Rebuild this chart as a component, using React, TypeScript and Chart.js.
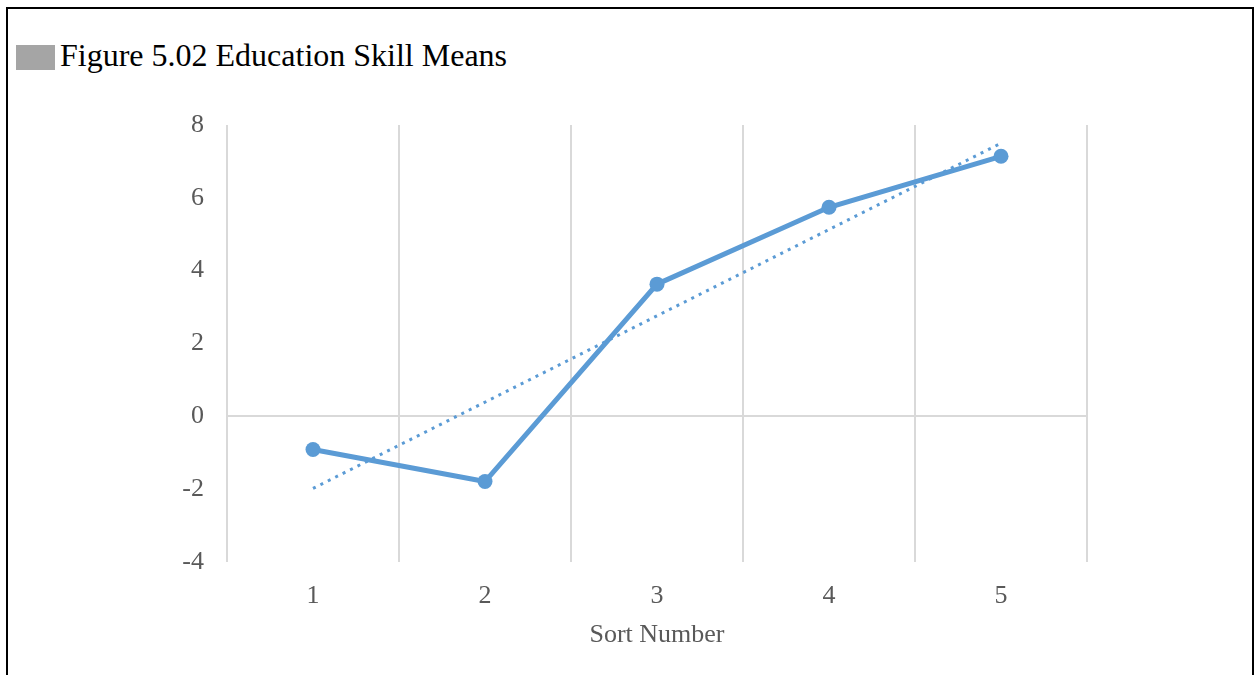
import React, { useEffect, useRef } from "react";
import { Chart, registerables } from "chart.js";

Chart.register(...registerables);

const categories = ["1", "2", "3", "4", "5"];
const skillMeans = [-0.91, -1.79, 3.63, 5.74, 7.14];
const trendValues = [-1.98, null, null, null, 7.5];
const yTicks = [-4, -2, 0, 2, 4, 6, 8];

const TITLE = "Figure 5.02 Education Skill Means";
const X_TITLE = "Sort Number";
const BLUE = "#5b9bd5";
const FONT = "'Liberation Serif', 'Times New Roman', serif";

export default function App() {
  const ref = useRef<HTMLCanvasElement | null>(null);

  useEffect(() => {
    document.body.style.margin = "0";
    const canvas = ref.current;
    if (!canvas) return;
    const chart = new Chart(canvas, {
      type: "line",
      data: {
        labels: categories,
        datasets: [
          {
            label: "Trend",
            data: trendValues,
            borderColor: BLUE,
            borderWidth: 3,
            borderDash: [3, 5.3],
            pointRadius: 0,
            spanGaps: true,
            fill: false,
            order: 0,
          },
          {
            label: "Mean",
            data: skillMeans,
            borderColor: BLUE,
            backgroundColor: BLUE,
            borderWidth: 5,
            pointRadius: 7.5,
            pointBorderWidth: 0,
            pointBackgroundColor: BLUE,
            fill: false,
            tension: 0,
            order: 1,
          },
        ],
      },
      options: {
        animation: false,
        responsive: false,
        maintainAspectRatio: false,
        layout: { padding: { left: 167, right: 167, top: 125, bottom: 20 } },
        plugins: {
          legend: { display: false },
          tooltip: { enabled: false },
          title: { display: false },
        },
        scales: {
          x: {
            type: "category",
            offset: true,
            afterFit: (scale: any) => {
              scale.height = 93;
            },
            grid: {
              display: true,
              offset: true,
              color: "#d9d9d9",
              lineWidth: 2,
              drawTicks: false,
            },
            border: { display: false },
            ticks: {
              color: "#595959",
              font: { family: FONT, size: 26 },
              padding: 19,
            },
            title: {
              display: true,
              text: X_TITLE,
              color: "#595959",
              font: { family: FONT, size: 26 },
              padding: { top: 2, bottom: 4 },
            },
          },
          y: {
            min: -4,
            max: 8,
            afterBuildTicks: (scale: any) => {
              scale.ticks = yTicks.map((v) => ({ value: v }));
            },
            afterFit: (scale: any) => {
              scale.width = 60;
            },
            grid: {
              drawTicks: false,
              color: (ctx: any) => (ctx.tick && ctx.tick.value === 0 ? "#d9d9d9" : "rgba(0,0,0,0)"),
              lineWidth: 2,
            },
            border: { display: false },
            ticks: {
              color: "#595959",
              font: { family: FONT, size: 26 },
              padding: 23,
            },
          },
        },
      },
    });
    return () => chart.destroy();
  }, []);

  return (
    <div style={{ position: "relative", width: 1254, height: 675, overflow: "hidden", background: "#fff" }}>
      <div
        style={{
          position: "absolute",
          left: 6,
          top: 7,
          width: 1244,
          height: 700,
          border: "2px solid #000",
          boxSizing: "content-box",
        }}
      />
      <div
        style={{
          position: "absolute",
          left: 16,
          top: 45,
          width: 39,
          height: 25,
          background: "#a5a5a5",
        }}
      />
      <div
        style={{
          position: "absolute",
          left: 60,
          top: 37,
          fontFamily: FONT,
          fontSize: 32,
          lineHeight: "36px",
          color: "#000",
          whiteSpace: "nowrap",
        }}
      >
        {TITLE}
      </div>
      <canvas ref={ref} width={1254} height={675} style={{ position: "absolute", left: 0, top: 0 }} />
    </div>
  );
}
